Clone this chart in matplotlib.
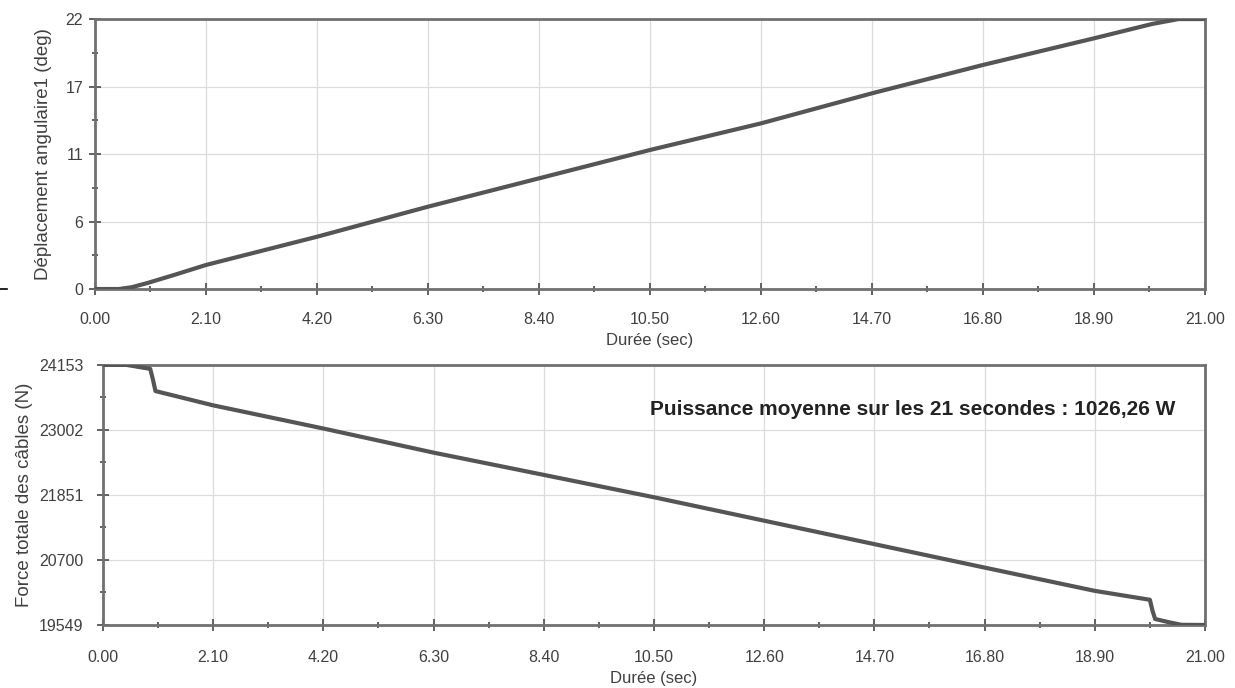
import matplotlib
matplotlib.use("Agg")
import matplotlib.pyplot as plt
from matplotlib.ticker import MultipleLocator, FixedLocator
from matplotlib.lines import Line2D

# angular displacement (deg) vs time (s)
t_ang = [0.0, 0.45, 0.7, 1.0, 1.5, 2.1, 4.2, 6.3, 8.4, 10.5, 12.6, 14.7, 16.8, 18.9, 20.0, 20.5, 21.0]
ang = [0.0, 0.0, 0.15, 0.5, 1.15, 1.96, 4.26, 6.71, 9.02, 11.33, 13.5, 15.95, 18.26, 20.43, 21.6, 22.0, 22.0]

# total cable force (N) vs time (s)
t_force = [0.0, 0.45, 0.9, 0.95, 1.0, 2.1, 4.2, 6.3, 8.4, 10.5, 12.6, 14.7, 16.8, 18.9, 19.95,
           20.0, 20.05, 20.3, 20.55, 21.0]
force = [24153, 24153, 24083, 23900, 23690, 23437, 23027, 22600, 22206, 21810, 21395, 20980, 20565, 20153, 19995,
         19800, 19655, 19600, 19552, 19549]

x_ticks = [0.0, 2.1, 4.2, 6.3, 8.4, 10.5, 12.6, 14.7, 16.8, 18.9, 21.0]
ang_ticks = [0, 5.5, 11, 16.5, 22]
ang_labels = ["0", "6", "11", "17", "22"]
force_ticks = [19549, 20700, 21851, 23002, 24153]

note = "Puissance moyenne sur les 21 secondes : 1026,26 W"

plt.rcParams['font.family'] = ['Liberation Sans', 'DejaVu Sans']

line_col = "#555555"
frame_col = "#707070"
txt_col = "#404040"

fig = plt.figure(figsize=(12.35, 6.88), dpi=100)
ax1 = fig.add_axes([0.0769, 0.5799, 0.8988, 0.3924])
ax2 = fig.add_axes([0.0834, 0.0916, 0.8923, 0.378])


def style(ax, yt, ylab, xpad, ypad, ylabpad):
    ax.set_xlim(0, 21)
    ax.set_xticks(x_ticks)
    ax.set_xticklabels(["%.2f" % v for v in x_ticks])
    ax.xaxis.set_minor_locator(MultipleLocator(1.05))
    ax.set_yticks(yt)
    mids = [(a + b) / 2 for a, b in zip(yt[:-1], yt[1:])]
    ax.yaxis.set_minor_locator(FixedLocator(mids))
    ax.grid(True, which="major", color="#dcdcdc", linewidth=0.9)
    ax.set_axisbelow(True)
    for s in ax.spines.values():
        s.set_color(frame_col)
        s.set_linewidth(2)
    ax.tick_params(which="major", direction="inout", length=9, width=1.3, color="#555555",
                   labelsize=11.5, labelcolor=txt_col)
    ax.tick_params(which="minor", direction="inout", length=4, width=1.3, color="#555555")
    ax.tick_params(axis="x", pad=xpad)
    ax.tick_params(axis="y", pad=ypad)
    ax.set_xlabel("Durée (sec)", fontsize=12, color=txt_col, labelpad=4.5)
    ax.set_ylabel(ylab, fontsize=13.5, color=txt_col, labelpad=ylabpad)


ax1.plot(t_ang, ang, color=line_col, linewidth=3, solid_capstyle="butt", zorder=3)
ax1.set_ylim(0, 22)
style(ax1, ang_ticks, "Déplacement angulaire1 (deg)", 12, 4, 10)
ax1.set_yticklabels(ang_labels)

ax2.plot(t_force, force, color=line_col, linewidth=3, solid_capstyle="butt", zorder=3)
ax2.set_ylim(19549, 24153)
style(ax2, force_ticks, "Force totale des câbles (N)", 13.5, 9.5, 4.5)
ax2.set_yticklabels([str(v) for v in force_ticks])
ax2.text(0.973, 0.83, note, transform=ax2.transAxes, ha="right", va="center",
         fontsize=15, fontweight="bold", color="#222222")

# small stray dash at the left edge of the picture
fig.add_artist(Line2D([0.0, 0.006], [0.5799, 0.5799], color="black", linewidth=1.2))

fig.savefig("out.png", dpi=100, facecolor="white")
